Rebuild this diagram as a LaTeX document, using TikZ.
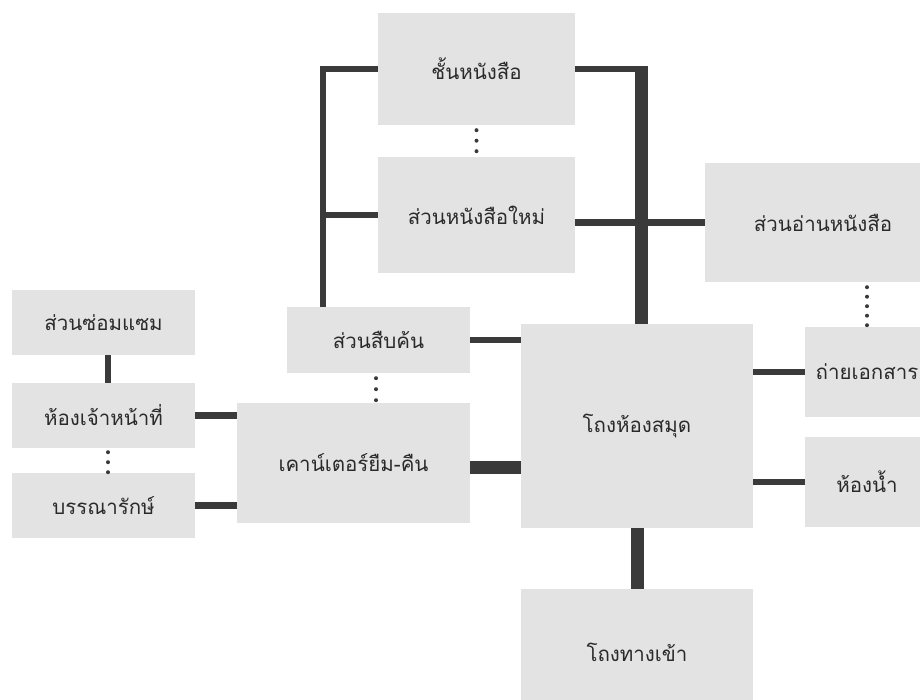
\documentclass[tikz,border=0pt]{standalone}
\usepackage{fontspec}
\newfontfamily\thaifont[Script=Thai]{Loma}
\definecolor{boxgray}{HTML}{E3E3E3}
\definecolor{linegray}{HTML}{3A3A3A}
\definecolor{textgray}{HTML}{2A2A2A}
\tikzset{
  room/.style={fill=boxgray, draw=none, inner sep=0pt, text=textgray,
    font=\thaifont\fontsize{20.5}{24}\selectfont},
  conn/.style={draw=linegray, line width=6.5pt},
  thickconn/.style={draw=linegray, line width=13pt},
  dotline/.style={draw=linegray, line width=4pt, line cap=round, dash pattern=on 0pt off 10.5pt}
}
\begin{document}
\begin{tikzpicture}[x=1pt,y=-1pt]
\useasboundingbox (0,0) rectangle (920,699);
\fill[white] (0,0) rectangle (920,699);
\clip (0,0) rectangle (920,699);
% rooms
\node[room, minimum width=197pt, minimum height=112pt] (shelf) at (476.5,69) {ชั้นหนังสือ};
\node[room, minimum width=197pt, minimum height=116pt] (newbook) at (476.5,215) {ส่วนหนังสือใหม่};
\node[room, minimum width=236pt, minimum height=119pt] (reading) at (823,222.5) {ส่วนอ่านหนังสือ};
\node[room, minimum width=183pt, minimum height=66pt] (search) at (378.5,340) {ส่วนสืบค้น};
\node[room, minimum width=232pt, minimum height=204pt] (hall) at (637,426) {โถงห้องสมุด};
\node[room, minimum width=124pt, minimum height=90pt] (copy) at (867,372) {ถ่ายเอกสาร};
\node[room, minimum width=124pt, minimum height=90pt] (toilet) at (867,482) {ห้องน้ำ};
\node[room, minimum width=233pt, minimum height=120pt] (counter) at (353.5,463) {เคาน์เตอร์ยืม-คืน};
\node[room, minimum width=183pt, minimum height=65pt] (repair) at (103.5,322.5) {ส่วนซ่อมแซม};
\node[room, minimum width=183pt, minimum height=65pt] (staff) at (103.5,415.5) {ห้องเจ้าหน้าที่};
\node[room, minimum width=183pt, minimum height=65pt] (librarian) at (103.5,505.5) {บรรณารักษ์};
\node[room, minimum width=232pt, minimum height=126pt] (entrance) at (637,652) {โถงทางเข้า};
% guide coordinates
\coordinate (L) at (323,0);
\coordinate (R) at (641,0);
% left trunk
\draw[conn] (shelf.west) -| (L |- search.north);
\draw[conn] (newbook.west) -- (L |- newbook.west);
% right trunk
\draw[conn] (shelf.east) -- (R |- shelf.east);
\draw[thickconn, shorten <=-3.25pt] (R |- shelf.east) -- (R |- hall.north);
\draw[conn] (newbook.east |- reading.west) -- (reading.west);
% hall links
\draw[conn] (search.east) -- (search.east -| hall.west);
\draw[thickconn] ([yshift=-4pt]counter.east) -- ([yshift=-4pt]counter.east -| hall.west);
\draw[conn] (copy.west) -- (copy.west -| hall.east);
\draw[conn] (toilet.west) -- (toilet.west -| hall.east);
\draw[thickconn] (hall.south) -- (entrance.north);
% left group
\draw[conn] ([xshift=4.5pt]repair.south) -- ([xshift=4.5pt]staff.north);
\draw[conn] (staff.east) -- (staff.east -| counter.west);
\draw[conn] (librarian.east) -- (librarian.east -| counter.west);
% dotted links
\draw[dotline] ([yshift=-5pt]shelf.south) -- ([yshift=5pt]newbook.north);
\draw[dotline, dash pattern=on 0pt off 11pt] ([yshift=-5pt,xshift=-2.5pt]search.south) -- ([yshift=2.5pt,xshift=-2.5pt]search.south |- counter.north);
\draw[dotline, dash pattern=on 0pt off 10pt] ([yshift=-4pt,xshift=4.5pt]staff.south) -- ([yshift=0.5pt,xshift=4.5pt]librarian.north);
\draw[dotline, dash pattern=on 0pt off 9.5pt] ([yshift=-5pt]copy.north |- reading.south) -- ([yshift=1.5pt]copy.north);
\end{tikzpicture}
\end{document}
